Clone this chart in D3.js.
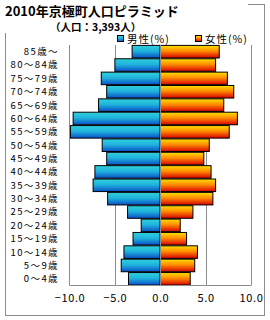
<!DOCTYPE html>
<html>
<head>
<meta charset="utf-8">
<script src="https://cdn.jsdelivr.net/npm/d3@7"></script>
<style>
  body { margin: 0; background: #fff; }
  text { font-family: "Noto Sans CJK JP", sans-serif; fill: #000; }
</style>
</head>
<body>
<svg width="270" height="320"></svg>
<script>
// age groups, top to bottom
const ages = ["85歳～", "80～84歳", "75～79歳", "70～74歳", "65～69歳", "60～64歳", "55～59歳",
  "50～54歳", "45～49歳", "40～44歳", "35～39歳", "30～34歳", "25～29歳", "20～24歳",
  "15～19歳", "10～14歳", "5～9歳", "0～4歳"];
// percent of total population
const male = [3.1, 5.0, 6.5, 5.9, 6.8, 9.6, 9.9, 6.4, 5.9, 7.2, 7.4, 5.8, 3.6, 2.1, 3.0, 4.0, 4.3, 3.5];
const female = [6.5, 6.1, 7.4, 8.1, 7.0, 8.5, 7.6, 5.4, 4.8, 5.6, 6.1, 5.8, 3.6, 2.2, 2.9, 4.1, 3.8, 3.3];
const xTicks = [-10, -5, 0, 5, 10];

const svg = d3.select("svg");

// gradients for the bars
const defs = svg.append("defs");
const gMale = defs.append("linearGradient").attr("id", "gm")
    .attr("x1", 0).attr("y1", 0).attr("x2", 0).attr("y2", 1);
gMale.append("stop").attr("offset", "0%").attr("stop-color", "#2fd0dc");
gMale.append("stop").attr("offset", "45%").attr("stop-color", "#20b4dc");
gMale.append("stop").attr("offset", "100%").attr("stop-color", "#0a4fc8");
const gFemale = defs.append("linearGradient").attr("id", "gf")
    .attr("x1", 0).attr("y1", 0).attr("x2", 0).attr("y2", 1);
gFemale.append("stop").attr("offset", "0%").attr("stop-color", "#ffe000");
gFemale.append("stop").attr("offset", "45%").attr("stop-color", "#ff8c00");
gFemale.append("stop").attr("offset", "100%").attr("stop-color", "#d80000");

// outer frame
svg.append("rect")
    .attr("x", 5.5).attr("y", 4.5).attr("width", 259).attr("height", 311)
    .attr("fill", "none").attr("stroke", "#8c8c8c");
// title box hides the frame corner
svg.append("rect").attr("x", 0).attr("y", 0).attr("width", 248).attr("height", 33).attr("fill", "#fff");

const plotLeft = 69.5, plotRight = 251, plotTop = 45, plotBottom = 285.5;

const x = d3.scaleLinear().domain([-10, 10]).range([plotLeft, plotRight]);
const y = d3.scaleBand().domain(ages).range([plotTop, plotBottom]).paddingInner(0.06).paddingOuter(0.03);

const plot = svg.append("g");

// vertical gridlines
plot.selectAll(".grid").data(xTicks.filter(d => d !== -10 && d !== 0))
  .enter().append("line")
    .attr("x1", d => Math.round(x(d)) + 0.5).attr("x2", d => Math.round(x(d)) + 0.5)
    .attr("y1", plotTop).attr("y2", plotBottom)
    .attr("stroke", "#8c8c8c");

// male bars (left)
plot.selectAll(".m").data(ages)
  .enter().append("rect")
    .attr("x", (d, i) => x(-male[i]))
    .attr("y", d => y(d))
    .attr("width", (d, i) => x(0) - x(-male[i]))
    .attr("height", y.bandwidth())
    .attr("fill", "url(#gm)")
    .attr("stroke", "#000").attr("stroke-width", 1);

// female bars (right)
plot.selectAll(".f").data(ages)
  .enter().append("rect")
    .attr("x", x(0))
    .attr("y", d => y(d))
    .attr("width", (d, i) => x(female[i]) - x(0))
    .attr("height", y.bandwidth())
    .attr("fill", "url(#gf)")
    .attr("stroke", "#000").attr("stroke-width", 1);

// zero line over the bars
plot.append("line")
    .attr("x1", Math.round(x(0)) + 0.5).attr("x2", Math.round(x(0)) + 0.5)
    .attr("y1", plotTop).attr("y2", plotBottom)
    .attr("stroke", "#8c8c8c");

// left and bottom axis lines
plot.append("path")
    .attr("d", `M${plotLeft},${plotTop}V${plotBottom}H${plotRight}`)
    .attr("fill", "none").attr("stroke", "#8c8c8c");

// y labels
svg.selectAll(".yl").data(ages)
  .enter().append("text")
    .attr("x", 59)
    .attr("y", d => y(d) + y.bandwidth() / 2)
    .attr("dy", "0.36em")
    .attr("text-anchor", "end")
    .attr("font-size", 9.5)
    .attr("letter-spacing", 1.4)
    .text(d => d);

// x labels
const xAxis = d3.axisBottom(x).tickValues(xTicks).tickSize(0).tickPadding(0);
const gx = svg.append("g").attr("transform", `translate(0,${plotBottom + 9})`).call(xAxis);
gx.select(".domain").remove();
gx.selectAll("text")
    .attr("font-family", "\"Noto Sans CJK JP\", sans-serif")
    .attr("font-size", 11)
    .attr("letter-spacing", 0.6)
    .text(d => d < 0 ? "−" + d3.format(".1f")(-d) : d3.format(".1f")(d));

// title
svg.append("text").attr("x", 5).attr("y", 16)
    .attr("font-size", 13).attr("font-weight", "bold")
    .text("2010年京極町人口ピラミッド");
svg.append("text").attr("x", 50).attr("y", 31)
    .attr("font-size", 10.5).attr("font-weight", "bold")
    .text("（人口：3,393人）");

// legend
const legend = [["男性(%)", "url(#gm)", 117], ["女性(%)", "url(#gf)", 195]];
legend.forEach(([label, fill, lx]) => {
  svg.append("rect").attr("x", lx + 0.5).attr("y", 35.5).attr("width", 6).attr("height", 6)
      .attr("fill", fill).attr("stroke", "#000");
  svg.append("text").attr("x", lx + 10).attr("y", 39).attr("dy", "0.36em")
      .attr("font-size", 10.5).attr("letter-spacing", 1)
      .text(label);
});
</script>
</body>
</html>
